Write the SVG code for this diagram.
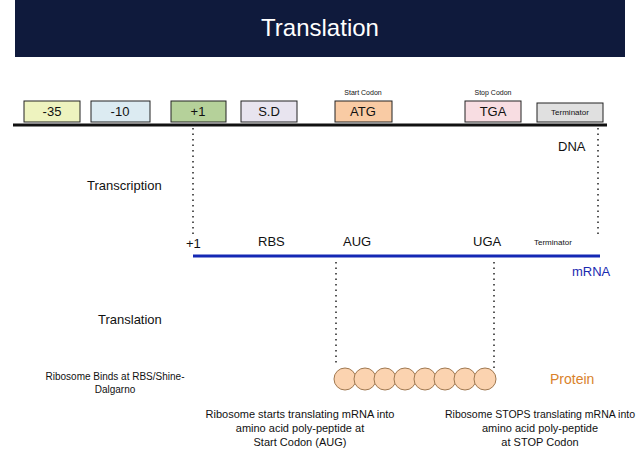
<svg xmlns="http://www.w3.org/2000/svg" width="640" height="462" viewBox="0 0 640 462">
<style>
text{font-family:"Liberation Sans",Arial,sans-serif;fill:#111}
.b{stroke:#222;stroke-width:1}
.bl{font-size:13px;text-anchor:middle}
.sm{font-size:7px;text-anchor:middle}
.lb{font-size:13px}
.t{font-size:11px;text-anchor:middle}
.dot{stroke:#222;stroke-width:1.5;stroke-dasharray:1.5,4;fill:none}
.c{fill:#fbd3b0;stroke:#a07850;stroke-width:1}
</style>
<rect width="640" height="462" fill="#fff"/>
<g id="header"><rect x="15" y="0" width="610" height="57" fill="#0f1a3c"/><text x="320" y="36" style="font-size:24px;fill:#fff;text-anchor:middle">Translation</text></g>
<g id="dna"><line x1="13" y1="125" x2="607" y2="125" stroke="#111" stroke-width="3"/><text x="558" y="151" class="lb">DNA</text></g>
<g id="b35"><rect x="24" y="101" width="56" height="21" fill="#eef3bf" class="b"/><text x="52" y="116" class="bl">-35</text></g>
<g id="b10"><rect x="91" y="101" width="59" height="21" fill="#dcebf2" class="b"/><text x="120" y="116" class="bl">-10</text></g>
<g id="bp1"><rect x="171" y="101" width="55" height="21" fill="#b5d19a" class="b"/><text x="198" y="116" class="bl">+1</text></g>
<g id="bsd"><rect x="241" y="101" width="56" height="21" fill="#e8e4ef" class="b"/><text x="269" y="116" class="bl">S.D</text></g>
<g id="batg"><text x="363" y="95" class="sm">Start Codon</text><rect x="335" y="101" width="57" height="21" fill="#f9cba4" class="b"/><text x="363" y="116" class="bl">ATG</text></g>
<g id="btga"><text x="493" y="95" class="sm">Stop Codon</text><rect x="465" y="101" width="56" height="21" fill="#f8dde2" class="b"/><text x="493" y="116" class="bl">TGA</text></g>
<g id="bterm"><rect x="537" y="103" width="66" height="19" fill="#e0e0e0" class="b"/><text x="570" y="115" class="sm" style="font-size:8px">Terminator</text></g>
<g id="connectors">
<line x1="193" y1="128" x2="193" y2="238" class="dot"/>
<line x1="598" y1="128" x2="598" y2="238" class="dot"/>
<line x1="336" y1="262" x2="336" y2="365" class="dot"/>
<line x1="494" y1="262" x2="494" y2="368" class="dot"/>
</g>
<g id="mrna"><line x1="193" y1="256" x2="600" y2="256" stroke="#1428b4" stroke-width="3"/>
<text x="572" y="276" class="lb" style="fill:#1a2ab0">mRNA</text>
<text x="186" y="248" class="lb">+1</text><text x="258" y="246" class="lb">RBS</text><text x="343" y="246" class="lb">AUG</text><text x="473" y="246" class="lb">UGA</text><text x="534" y="245" style="font-size:8px">Terminator</text></g>
<g id="labels"><text x="87" y="190" class="lb">Transcription</text><text x="98" y="324" class="lb">Translation</text>
<text x="115" y="380" class="t" style="font-size:10px">Ribosome Binds at RBS/Shine-</text><text x="115" y="393" class="t" style="font-size:10px">Dalgarno</text></g>
<g id="protein">
<circle cx="345" cy="379" r="11" class="c"/><circle cx="365" cy="379" r="11" class="c"/><circle cx="385" cy="379" r="11" class="c"/><circle cx="405" cy="379" r="11" class="c"/><circle cx="425" cy="379" r="11" class="c"/><circle cx="445" cy="379" r="11" class="c"/><circle cx="465" cy="379" r="11" class="c"/><circle cx="485" cy="379" r="11" class="c"/>
<text x="550" y="384" style="font-size:14px;fill:#d9822b">Protein</text></g>
<g id="notes"><text x="300" y="418" class="t">Ribosome starts translating mRNA into</text><text x="300" y="432" class="t">amino acid poly-peptide at</text><text x="300" y="446" class="t">Start Codon (AUG)</text>
<text x="540" y="418" class="t" style="font-size:10.5px">Ribosome STOPS translating mRNA into</text><text x="540" y="432" class="t">amino acid poly-peptide</text><text x="540" y="446" class="t">at STOP Codon</text></g>
</svg>
